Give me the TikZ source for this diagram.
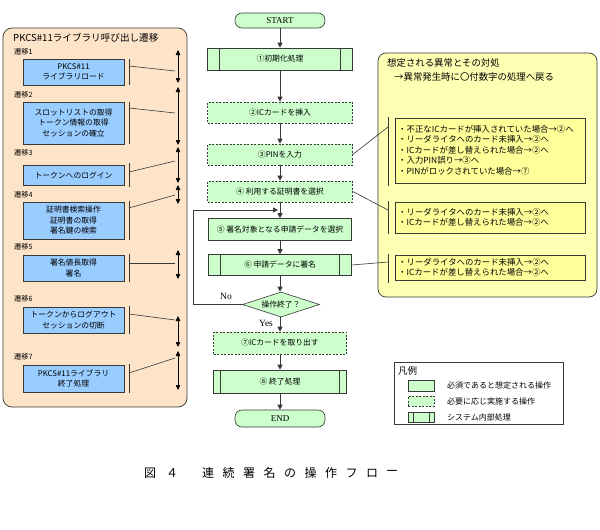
\documentclass[tikz,border=0pt]{standalone}
\usepackage{fontspec}
\setmainfont{Liberation Serif}
\newfontfamily\jp{Noto Sans CJK JP}
\usetikzlibrary{arrows.meta,shapes.geometric}
\definecolor{peach}{HTML}{FDE4C8}
\definecolor{boxblue}{HTML}{99CCFF}
\definecolor{boxgreen}{HTML}{CCFFCC}
\definecolor{panely}{HTML}{FFFFB3}
\definecolor{innery}{HTML}{FFFF99}
\definecolor{edge}{HTML}{383838}
\begin{document}
\begin{tikzpicture}[x=1pt,y=-1pt,
  tx/.style={font=\jp\fontsize{7.8}{10.5}\selectfont},
  lbl/.style={font=\jp\fontsize{7.2}{9}\selectfont, anchor=west, inner sep=0},
  bluebox/.style={draw=edge, fill=boxblue, line width=0.6pt, inner sep=0, align=center, tx, minimum width=101},
  gsolid/.style={draw=edge, fill=boxgreen, line width=0.6pt, inner sep=0, tx},
  gdash/.style={gsolid, dash pattern=on 2pt off 1.5pt},
  sysbox/.style={gsolid, path picture={
     \draw[edge, line width=0.6pt] ([xshift=#1]path picture bounding box.north west) -- ([xshift=#1]path picture bounding box.south west);
     \draw[edge, line width=0.6pt] ([xshift=-#1]path picture bounding box.north east) -- ([xshift=-#1]path picture bounding box.south east);}},
  sysbox/.default=12pt,
  pill/.style={draw=edge, fill=boxgreen, line width=0.6pt, rounded corners=7pt, minimum width=90, inner sep=0, font=\fontsize{9}{10}\selectfont},
  flow/.style={draw=edge, line width=0.8pt, -{Triangle[length=5pt,width=5pt]}},
  dbl/.style={draw=black, line width=0.6pt, {Triangle[length=5pt,width=4.5pt]}-{Triangle[length=5pt,width=4.5pt]}},
  brk/.style={draw=edge, line width=0.6pt},
  itemtx/.style={font=\jp\fontsize{8.4}{10.5}\selectfont, align=left, anchor=west, inner sep=0},
]
\useasboundingbox (0,0) rectangle (600,530);
\fill[white] (0,0) rectangle (600,530);

% ---------------- left panel
\draw[draw=edge, fill=peach, line width=0.7pt, rounded corners=9pt] (3,28) rectangle (187,407);
\node[anchor=west, inner sep=0, font=\jp\fontsize{9.6}{11}\selectfont] (ltitle) at (13,38) {PKCS\#11ライブラリ呼び出し遷移};

\node[lbl] (t1) at (14,52) {遷移1};
\node[lbl] (t2) at (14,95) {遷移2};
\node[lbl] (t3) at (14,153) {遷移3};
\node[lbl] (t4) at (14,195) {遷移4};
\node[lbl] (t5) at (14,247) {遷移5};
\node[lbl] (t6) at (14,299) {遷移6};
\node[lbl] (t7) at (14,357) {遷移7};

\node[bluebox, minimum height=26] (b1) at (73.5,72) {PKCS\#11\\ライブラリロード};
\node[bluebox, minimum height=42] (b2) at (73.5,123) {スロットリストの取得\\トークン情報の取得\\セッションの確立};
\node[bluebox, minimum height=20] (b3) at (73.5,175) {トークンへのログイン};
\node[bluebox, minimum height=37] (b4) at (73.5,220.5) {証明書検索操作\\証明書の取得\\署名鍵の検索};
\node[bluebox, minimum height=26] (b5) at (73.5,268) {署名値長取得\\署名};
\node[bluebox, minimum height=26] (b6) at (73.5,320) {トークンからログアウト\\セッションの切断};
\node[bluebox, minimum height=27] (b7) at (73.5,378.5) {PKCS\#11ライブラリ\\終了処理};

% brackets
\draw[brk] (129,59) -- (129,85);   \draw[brk] (129,66) -- (175,71);
\draw[brk] (129,102) -- (129,144); \draw[brk] (129,108) -- (175,113);
\draw[brk] (129,163) -- (129,187); \draw[brk] (129,172) -- (175,161);
\draw[brk] (129,201) -- (129,240); \draw[brk] (129,208) -- (175,195);
\draw[brk] (129,254) -- (129,282); \draw[brk] (129,263) -- (175,263);
\draw[brk] (129,306) -- (129,334); \draw[brk] (129,314) -- (175,320);
\draw[brk] (129,364) -- (129,393); \draw[brk] (129,373) -- (175,358);

\coordinate (a1t) at (178,50);  \coordinate (a1b) at (178,83);
\coordinate (a2t) at (178,87);  \coordinate (a2b) at (178,145);
\coordinate (a3t) at (178,147); \coordinate (a3b) at (178,183);
\coordinate (a4t) at (178,185); \coordinate (a4b) at (178,204);
\coordinate (a5t) at (178,250); \coordinate (a5b) at (178,279);
\coordinate (a6t) at (178,316); \coordinate (a6b) at (178,347);
\coordinate (a7t) at (178,351); \coordinate (a7b) at (178,390);
\draw[dbl] (a1t) -- (a1b);
\draw[dbl] (a2t) -- (a2b);
\draw[dbl] (a3t) -- (a3b);
\draw[dbl] (a4t) -- (a4b);
\draw[dbl] (a5t) -- (a5b);
\draw[dbl] (a6t) -- (a6b);
\draw[dbl] (a7t) -- (a7b);

% ---------------- flowchart
\node[pill, minimum height=15] (start) at (280,20.5) {START};
\node[sysbox, minimum width=145, minimum height=22] (s1) at (280,59) {①初期化処理};
\node[gdash, minimum width=145, minimum height=21] (s2) at (280,112.5) {②ICカードを挿入};
\node[gdash, minimum width=145, minimum height=21] (s3) at (280,154.5) {③PINを入力};
\node[gdash, minimum width=145, minimum height=21] (s4) at (280,191.5) {④ 利用する証明書を選択};
\node[gsolid, minimum width=143, minimum height=22] (s5) at (280,229.5) {⑤ 署名対象となる申請データを選択};
\node[sysbox, minimum width=143, minimum height=21] (s6) at (280,265) {⑥ 申請データに署名};
\node[draw=edge, fill=boxgreen, line width=0.6pt, diamond, aspect=3, inner sep=0, minimum width=77, minimum height=25, tx] (dia) at (281,304.5) {操作終了？};
\node[gdash, minimum width=133, minimum height=22] (s7) at (280,343) {⑦ICカードを取り出す};
\node[sysbox=7pt, minimum width=133, minimum height=23] (s8) at (280,381.5) {⑧ 終了処理};
\node[pill, minimum height=17] (end) at (280,418.5) {END};

\draw[flow] (start) -- (s1);
\draw[flow] (s1) -- (s2);
\draw[flow] (s2) -- (s3);
\draw[flow] (s3) -- (s4);
\draw[flow] (s4) -- (s5);
\draw[flow] (s5) -- (s6);
\draw[flow] (s6.south) -- (s6.south |- dia.north);
\draw[flow] (dia.south -| s7.north) -- (s7);
\draw[flow] (s7) -- (s8);
\draw[flow] (s8) -- (end);

\coordinate (lpA) at (193,304.5);
\coordinate (lpB) at (193,210);
\coordinate (lpC) at (278,210);
\draw[flow] (dia.west) -- (lpA) -- (lpB) -- (lpC);

\node[font=\fontsize{9.5}{10}\selectfont, inner sep=0] (no) at (226,296) {No};
\node[font=\fontsize{9.5}{10}\selectfont, inner sep=0] (yes) at (266,323) {Yes};

% ---------------- right panel
\draw[draw=edge, fill=panely, line width=0.7pt, rounded corners=8pt] (378,53) rectangle (597,297);
\node[anchor=west, inner sep=0, font=\jp\fontsize{9.4}{11}\selectfont] (rt1) at (387,63) {想定される異常とその対処};
\node[anchor=west, inner sep=0, font=\jp\fontsize{9.4}{11}\selectfont] (rt2) at (394,77) {→異常発生時に〇付数字の処理へ戻る};

\node[draw=edge, fill=innery, line width=0.6pt, minimum width=190, minimum height=65, inner sep=0] (ba) at (490,150.5) {};
\node[draw=edge, fill=innery, line width=0.6pt, minimum width=190, minimum height=31, inner sep=0] (bb) at (490,217.5) {};
\node[draw=edge, fill=innery, line width=0.6pt, minimum width=190, minimum height=25, inner sep=0] (bc) at (490,267.5) {};
\node[itemtx] (ta) at (398,150) {・不正なICカードが挿入されていた場合→②へ\\・リーダライタへのカード未挿入→②へ\\・ICカードが差し替えられた場合→②へ\\・入力PIN誤り→③へ\\・PINがロックされていた場合→⑦};
\node[itemtx] (tb) at (398,217.5) {・リーダライタへのカード未挿入→②へ\\・ICカードが差し替えられた場合→②へ};
\node[itemtx] (tc) at (398,267.5) {・リーダライタへのカード未挿入→②へ\\・ICカードが差し替えられた場合→②へ};

\draw[brk] (388,117) -- (388,186);
\draw[brk] (388,201) -- (388,234);
\draw[brk] (388,254) -- (388,283);
\coordinate (ca) at (388,127);
\coordinate (cb) at (388,210);
\coordinate (cc) at (388,262);
\draw[brk] (s3.east) -- (ca);
\draw[brk] (s4.east) -- (cb);
\draw[brk] (s6.east) -- (cc);

% ---------------- legend
\draw[draw=edge, fill=white, line width=0.6pt] (394,362) rectangle (563,424);
\node[anchor=west, inner sep=0, font=\jp\fontsize{9.5}{10}\selectfont] (lgt) at (398,371) {凡例};
\node[gsolid, minimum width=26, minimum height=11] (lg1) at (421,385.5) {};
\node[gdash, minimum width=26, minimum height=10] (lg2) at (421,401) {};
\node[sysbox=5pt, minimum width=26, minimum height=10] (lg3) at (421,417) {};
\node[anchor=west, inner sep=0, font=\jp\fontsize{8}{9}\selectfont] (lx1) at (447,385.5) {必須であると想定される操作};
\node[anchor=west, inner sep=0, font=\jp\fontsize{8}{9}\selectfont] (lx2) at (447,401) {必要に応じ実施する操作};
\node[anchor=west, inner sep=0, font=\jp\fontsize{8}{9}\selectfont] (lx3) at (447,417) {システム内部処理};

% ---------------- caption
\foreach \ch/\xx [count=\i] in {図/150, ４/172, 連/208, 続/228.5, 署/249, 名/269.5, の/290, 操/310.5, 作/331, フ/351.5, ロ/372, ー/392}
  \node[inner sep=0, font=\jp\fontsize{12}{13}\selectfont] (cap\i) at (\xx,473) {\ch};
\end{tikzpicture}
\end{document}
